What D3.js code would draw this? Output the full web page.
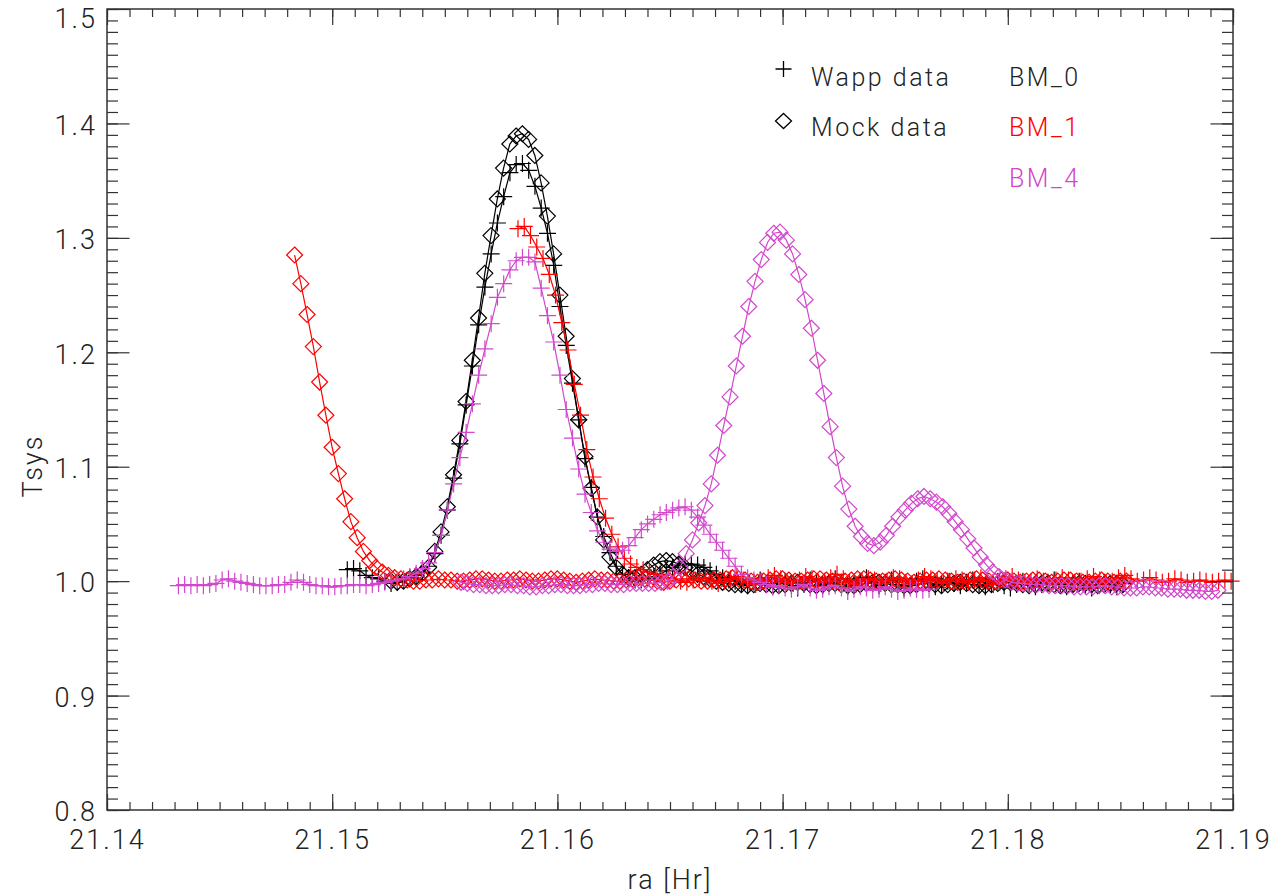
<!DOCTYPE html>
<html>
<head>
<meta charset="utf-8">
<script src="https://cdn.jsdelivr.net/npm/d3@7"></script>
<style>
html, body { margin: 0; padding: 0; background: #fff; }
svg text { font-family: Roboto, "DejaVu Sans", sans-serif; font-weight: 300; fill: #222; }
</style>
</head>
<body>
<div id="chart"></div>
<script>
// ---- data: Tsys sampled once a second, start ra of each scan in hours ----
var sampleHr = 1 / 3600;

var xTicks = [21.14, 21.15, 21.16, 21.17, 21.18, 21.19];
var yTicks = [0.8, 0.9, 1.0, 1.1, 1.2, 1.3, 1.4, 1.5];

var bm0WappStart = 21.15067;
var bm0Wapp = [
  1.010, 1.011, 1.009, 1.005, 1.003, 1.002, 1.000, 0.998, 0.999, 1.001,
  1.003, 1.005, 1.008, 1.013, 1.024, 1.040, 1.062, 1.090, 1.120, 1.154,
  1.188, 1.224, 1.257, 1.286, 1.313, 1.336, 1.357, 1.364, 1.365, 1.359,
  1.345, 1.326, 1.304, 1.276, 1.240, 1.206, 1.173, 1.141, 1.107, 1.082,
  1.056, 1.039, 1.025, 1.013, 1.006, 1.003, 1.001, 1.001, 1.002, 1.004,
  1.006, 1.009, 1.012, 1.014, 1.015, 1.015, 1.014, 1.012, 1.009, 1.006,
  1.003, 1.001,
  1.000, 0.998, 0.996, 0.999, 1.001, 0.997, 0.995, 0.998, 1.000, 0.996,
  0.994, 0.997, 1.001, 0.999, 0.996, 0.998, 1.002, 0.999, 0.995, 0.997,
  1.000, 1.003, 0.998, 0.996, 0.999, 1.001, 0.997, 0.994, 0.996, 1.000,
  1.002, 0.998, 0.995, 0.997, 1.000, 0.998, 0.996, 0.999, 1.001, 0.997,
  0.995, 0.998, 1.000, 0.996, 0.994, 0.997, 1.000, 0.998, 0.995, 0.997,
  0.999, 1.001, 0.997, 0.995, 0.998, 1.000, 0.996, 0.994, 0.997, 0.999,
  0.997, 0.995, 0.998
];

var bm0MockStart = 21.15261;
var bm0Mock = [
  1.000, 0.999, 1.000, 1.002, 1.004, 1.007, 1.012, 1.026, 1.043, 1.065,
  1.093, 1.123, 1.157, 1.193, 1.230, 1.269, 1.302, 1.334, 1.361, 1.382,
  1.389, 1.391, 1.386, 1.372, 1.348, 1.319, 1.286, 1.250, 1.214, 1.177,
  1.141, 1.109, 1.081, 1.056, 1.036, 1.021, 1.012, 1.006, 1.003, 1.003,
  1.006, 1.010, 1.014, 1.017, 1.018, 1.017, 1.015, 1.012, 1.009, 1.006,
  1.004, 1.002, 1.000,
  0.999, 0.998, 0.997, 0.997, 0.996, 0.997, 0.998, 0.997, 0.996, 0.996,
  0.997, 0.998, 0.999, 0.998, 0.997, 0.996, 0.997, 0.998, 0.998, 0.997,
  0.996, 0.996, 0.997, 0.998, 0.999, 0.999, 0.998, 0.997, 0.997, 0.996,
  0.996, 0.997, 0.998, 0.998, 0.997, 0.996, 0.997, 0.998, 0.999, 0.998,
  0.997, 0.996, 0.996, 0.997, 0.998, 0.999, 0.999, 0.998, 0.997, 0.996,
  0.997, 0.998, 0.998, 0.997, 0.996, 0.996, 0.997, 0.998, 0.998, 0.997,
  0.996, 0.997, 0.998, 0.998, 0.997
];

var bm1WappStart = 21.15825;
var bm1Wapp = [
  1.308, 1.310, 1.302, 1.292, 1.282, 1.268, 1.250, 1.226, 1.202, 1.172,
  1.145, 1.115, 1.091, 1.072, 1.055, 1.041, 1.030, 1.020, 1.015, 1.012,
  1.010, 1.008, 1.006,
  1.005, 1.003, 1.002, 1.000, 0.999, 1.001, 1.003, 1.002, 1.000, 0.998,
  1.000, 1.002, 1.004, 1.001, 0.999, 0.997, 1.000, 1.003, 1.005, 1.002,
  0.999, 0.998, 1.001, 1.004, 1.002, 0.999, 1.000, 1.003, 1.006, 1.002,
  0.999, 0.997, 1.000, 1.002, 1.001, 0.998, 1.000, 1.003, 1.002, 0.999,
  0.998, 1.001, 1.004, 1.002, 1.000, 0.998, 1.000, 1.002, 1.001, 0.999,
  1.001, 1.003, 1.000, 0.997, 0.999, 1.002, 1.004, 1.001, 0.999, 1.000,
  1.002, 1.000, 0.998, 1.001, 1.003, 1.001, 0.999, 1.000, 1.002, 1.004,
  1.001, 0.999, 1.000, 1.003, 1.005, 1.002, 1.000, 1.001, 1.003, 1.001,
  0.999, 1.000, 1.002, 1.001, 0.999, 1.000, 1.001, 1.000, 0.999, 1.000,
  1.001, 1.000
];

var bm1MockStart = 21.14833;
var bm1Mock = [
  1.285, 1.260, 1.233, 1.205, 1.174, 1.145, 1.117, 1.094, 1.072, 1.052,
  1.038, 1.026, 1.018, 1.012, 1.008, 1.005, 1.003, 1.002, 1.001,
  1.000, 1.000, 1.001, 1.001, 1.002, 1.001, 1.001, 1.000, 1.000, 1.001,
  1.002, 1.002, 1.001, 1.000, 1.000, 1.001, 1.001, 1.002, 1.001, 1.000,
  1.000, 1.001, 1.002, 1.002, 1.001, 1.000, 0.999, 1.000, 1.001, 1.002,
  1.001, 1.001, 1.000, 1.000, 1.001, 1.002, 1.003, 1.002, 1.001, 1.000,
  0.999, 1.000, 1.001, 1.002, 1.002, 1.001, 1.000, 1.000, 1.001, 1.001,
  1.002, 1.003, 1.002, 1.001, 1.000, 0.999, 1.000, 1.001, 1.002, 1.002,
  1.001, 1.000, 1.000, 1.001, 1.002, 1.002, 1.001, 1.000, 0.999, 1.000,
  1.001, 1.002, 1.002, 1.001, 1.000, 1.000, 1.001, 1.002, 1.001, 1.000,
  0.999, 1.000, 1.001, 1.001, 1.002, 1.001, 1.000, 0.999, 1.000, 1.001,
  1.002, 1.001, 1.000, 1.000, 1.001, 1.001, 1.000, 0.999, 1.000, 1.001,
  1.001, 1.000, 0.999, 1.000, 1.001, 1.001, 1.000, 0.999, 0.999, 1.000,
  1.001, 1.000, 0.999, 1.000, 1.000
];

var bm4WappStart = 21.14317;
var bm4Wapp = [
  0.996, 0.997, 0.996, 0.997, 0.996, 0.997, 0.998, 1.001, 1.002, 1.000,
  0.999, 0.998, 0.997, 0.996, 0.996, 0.996, 0.997, 0.997, 0.999, 1.001,
  0.999, 0.997, 0.996, 0.996, 0.995, 0.995, 0.996, 0.996, 0.997, 0.997,
  0.996, 0.997, 0.998, 0.999, 1.000, 1.001, 1.002, 1.004, 1.007, 1.011,
  1.016, 1.025, 1.040, 1.062, 1.085, 1.108, 1.130, 1.155, 1.180, 1.203,
  1.225,
  1.248, 1.260, 1.272, 1.280, 1.283, 1.283, 1.279, 1.256, 1.232, 1.209,
  1.180, 1.150, 1.125, 1.098, 1.076, 1.060, 1.044, 1.034, 1.028, 1.026,
  1.027, 1.031, 1.038, 1.045, 1.050, 1.054, 1.058, 1.060, 1.062, 1.064,
  1.065, 1.062, 1.056, 1.049, 1.041, 1.034, 1.027, 1.020, 1.013, 1.006,
  1.003, 1.001,
  0.999, 0.997, 0.995, 0.996, 0.994, 0.993, 0.995, 0.997, 0.994, 0.992,
  0.993, 0.995, 0.996, 0.994, 0.991, 0.993, 0.995, 0.994, 0.992, 0.993,
  0.995, 0.993, 0.991, 0.992, 0.994, 0.993, 0.992, 0.993
];

var bm4MockStart = 21.15572;
var bm4Mock = [
  0.999, 0.998, 0.997, 0.997, 0.996, 0.996, 0.996, 0.997, 0.997, 0.996,
  0.996, 0.995, 0.995, 0.996, 0.996, 0.997, 0.997, 0.996, 0.996, 0.996,
  0.997, 0.997, 0.998, 0.998, 0.997, 0.997, 0.997, 0.998, 0.998, 0.998,
  0.998,
  0.998, 0.999, 1.000, 1.004, 1.012, 1.024, 1.036, 1.051, 1.066, 1.085,
  1.110, 1.136, 1.161, 1.188, 1.214, 1.240, 1.262, 1.281, 1.296, 1.304,
  1.305, 1.298, 1.286, 1.268, 1.246, 1.221, 1.193, 1.164, 1.135, 1.108,
  1.083, 1.063, 1.048, 1.039, 1.033, 1.031, 1.034, 1.040, 1.048, 1.056,
  1.062, 1.068, 1.072, 1.074, 1.072, 1.069, 1.065, 1.059, 1.052, 1.045,
  1.037, 1.029, 1.021, 1.014, 1.008, 1.004,
  1.001, 0.999, 0.998, 0.998, 0.997, 0.997, 0.997, 0.996, 0.996, 0.996,
  0.996, 0.995, 0.995, 0.995, 0.995, 0.996, 0.996, 0.995, 0.995, 0.994,
  0.994, 0.994, 0.995, 0.995, 0.994, 0.994, 0.993, 0.993, 0.993, 0.992,
  0.992, 0.992, 0.991, 0.991, 0.992
];

function init(){

    var w = 1288;
    var h = 896;
    var left = 107, right = 1233, top = 9, bottom = 810;
    var axisColor = "#333";

    var svg = d3.select("#chart")
        .append("svg")
        .attr("width", w)
        .attr("height", h);

    var x = d3.scaleLinear().domain([21.14, 21.19]).range([left, right]);
    var y = d3.scaleLinear().domain([0.8, 1.5]).range([bottom, top]);

    // series table built from the arrays above
    var series = [
        {start: bm0WappStart, values: bm0Wapp, color: "#000000", mark: "plus"},
        {start: bm0MockStart, values: bm0Mock, color: "#000000", mark: "diamond"},
        {start: bm1WappStart, values: bm1Wapp, color: "#ff0000", mark: "plus"},
        {start: bm1MockStart, values: bm1Mock, color: "#ff0000", mark: "diamond"},
        {start: bm4WappStart, values: bm4Wapp, color: "#d247cc", mark: "plus"},
        {start: bm4MockStart, values: bm4Mock, color: "#d247cc", mark: "diamond"}
    ];

    var markPath = {
        plus: "M-8.5,0H8.5M0,-8.5V8.5",
        diamond: "M0,-8L8,0L0,8L-8,0Z"
    };

    var line = d3.line()
        .x(function(d){ return x(d.ra); })
        .y(function(d){ return y(d.v); });

    var plot = svg.append("g");

    series.forEach(function(s){
        var pts = s.values.map(function(v, i){
            return {ra: s.start + i * sampleHr, v: v};
        });
        var g = plot.append("g");
        g.append("path")
            .datum(pts)
            .attr("d", line)
            .attr("fill", "none")
            .attr("stroke", s.color)
            .attr("stroke-width", 1.2);
        g.selectAll("path.mk")
            .data(pts)
            .enter()
            .append("path")
            .attr("class", "mk")
            .attr("transform", function(d){ return "translate(" + x(d.ra) + "," + y(d.v) + ")"; })
            .attr("d", markPath[s.mark])
            .attr("fill", "none")
            .attr("stroke", s.color)
            .attr("stroke-width", 1.2);
    });

    // ---- axes: IDL style, ticks inside on all four sides ----
    var xMinor = d3.range(0, 51).map(function(i){ return 21.14 + i * 0.001; });
    var yMinor = d3.range(0, 71).map(function(i){ return 0.8 + i * 0.01; });

    function styleAxis(g){
        g.select(".domain").remove();
        g.selectAll("line").attr("stroke", axisColor).attr("stroke-width", 1.2);
        g.selectAll("text")
            .style("font-size", "27px")
            .style("letter-spacing", "2px")
            .attr("fill", "#222");
    }

    svg.append("g").attr("transform", "translate(0," + bottom + ")")
        .call(d3.axisBottom(x).tickValues(xMinor).tickSize(-8).tickFormat(""))
        .call(styleAxis);
    svg.append("g").attr("transform", "translate(0," + bottom + ")")
        .call(d3.axisBottom(x).tickValues(xTicks).tickSize(-16).tickPadding(20)
            .tickFormat(d3.format(".2f")))
        .call(styleAxis);
    svg.append("g").attr("transform", "translate(0," + top + ")")
        .call(d3.axisTop(x).tickValues(xMinor).tickSize(-8).tickFormat(""))
        .call(styleAxis);
    svg.append("g").attr("transform", "translate(0," + top + ")")
        .call(d3.axisTop(x).tickValues(xTicks).tickSize(-16).tickFormat(""))
        .call(styleAxis);

    svg.append("g").attr("transform", "translate(" + left + ",0)")
        .call(d3.axisLeft(y).tickValues(yMinor).tickSize(-11).tickFormat(""))
        .call(styleAxis);
    var yAxis = svg.append("g").attr("transform", "translate(" + left + ",0)")
        .call(d3.axisLeft(y).tickValues(yTicks).tickSize(-22.5).tickPadding(10)
            .tickFormat(d3.format(".1f")))
        .call(styleAxis);
    yAxis.selectAll("text").attr("dy", function(d){ return d === 1.5 ? "0.7em" : "0.4em"; });

    svg.append("g").attr("transform", "translate(" + right + ",0)")
        .call(d3.axisRight(y).tickValues(yMinor).tickSize(-11).tickFormat(""))
        .call(styleAxis);
    svg.append("g").attr("transform", "translate(" + right + ",0)")
        .call(d3.axisRight(y).tickValues(yTicks).tickSize(-22.5).tickFormat(""))
        .call(styleAxis);

    svg.append("rect")
        .attr("x", left).attr("y", top)
        .attr("width", right - left).attr("height", bottom - top)
        .attr("fill", "none")
        .attr("stroke", axisColor)
        .attr("stroke-width", 1.5);

    // axis titles
    svg.append("text")
        .attr("x", (left + right) / 2)
        .attr("y", 889)
        .attr("text-anchor", "middle")
        .style("font-size", "27px")
        .style("letter-spacing", "2px")
        .text("ra [Hr]");

    svg.append("text")
        .attr("transform", "translate(42,466) rotate(-90)")
        .attr("text-anchor", "middle")
        .style("font-size", "27px")
        .style("letter-spacing", "2px")
        .text("Tsys");

    // ---- legend ----
    var legend = svg.append("g");
    legend.append("path")
        .attr("transform", "translate(783.5,69)")
        .attr("d", "M-8,0H8M0,-8V8")
        .attr("fill", "none").attr("stroke", "#000").attr("stroke-width", 1.3);
    legend.append("path")
        .attr("transform", "translate(783.5,121)")
        .attr("d", "M0,-7.5L8,0L0,7.5L-8,0Z")
        .attr("fill", "none").attr("stroke", "#000").attr("stroke-width", 1.3);

    var legendText = [
        {t: "Wapp data", x: 811, y: 86, c: "#222"},
        {t: "Mock data", x: 811, y: 136, c: "#222"},
        {t: "BM_0", x: 1009, y: 86, c: "#222"},
        {t: "BM_1", x: 1009, y: 136, c: "#ff0000"},
        {t: "BM_4", x: 1009, y: 187, c: "#d247cc"}
    ];
    legend.selectAll("text")
        .data(legendText)
        .enter()
        .append("text")
        .attr("x", function(d){ return d.x; })
        .attr("y", function(d){ return d.y; })
        .style("font-size", "25px")
        .style("letter-spacing", "2.5px")
        .style("fill", function(d){ return d.c; })
        .text(function(d){ return d.t; });
}
window.onload = init;
</script>
</body>
</html>
